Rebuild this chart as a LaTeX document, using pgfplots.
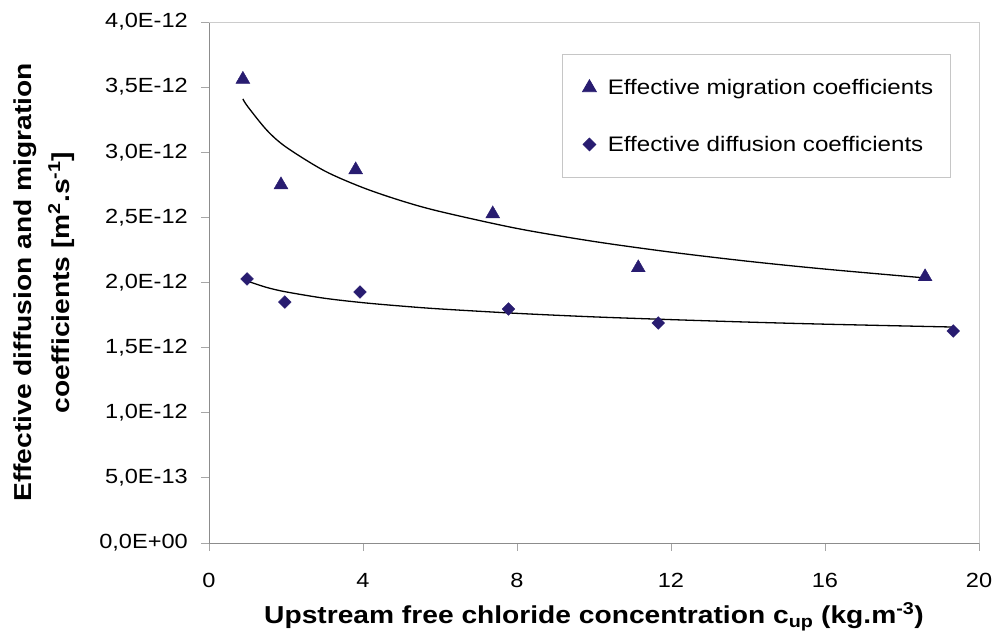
\documentclass[border=0pt]{standalone}
\usepackage{fontspec}
\setmainfont{Liberation Sans}[FakeStretch=1.15]
\usepackage{pgfplots}
\pgfplotsset{compat=1.18}
\definecolor{navy}{RGB}{40,28,112}
\begin{document}
\begin{tikzpicture}
\path[use as bounding box] (-209pt,-88pt) rectangle (787pt,543pt);
\begin{axis}[
  scale only axis, width=770pt, height=521pt,
  at={(0pt,0pt)}, anchor=south west,
  xmin=0, xmax=20, ymin=0, ymax=4,
  axis lines=left,
  axis line style={-, draw=gray!90, line width=0.9pt},
  xtick={0,4,...,20},
  ytick={0,0.5,1,1.5,2,2.5,3,3.5,4},
  yticklabels={{0,0E+00},{5,0E-13},{1,0E-12},{1,5E-12},{2,0E-12},{2,5E-12},{3,0E-12},{3,5E-12},{4,0E-12}},
  /pgf/number format/assume math mode=true,
  tick align=outside, major tick length=8pt,
  tick style={draw=gray!70, line width=0.8pt},
  ticklabel style={font=\fontsize{20.5}{24}\selectfont, inner sep=0pt},
  xticklabel style={anchor=north, yshift=-22pt},
  yticklabel style={anchor=east, xshift=-13pt},
  label style={font=\bfseries\fontsize{24.5}{38}\selectfont},
  xlabel={Upstream free chloride concentration c\textsubscript{up} (kg.m\textsuperscript{-3})},
  xlabel style={at={(axis description cs:0.5,0)}, anchor=base, yshift=-81pt},
  ylabel={Effective diffusion and migration\\coefficients [m\textsuperscript{2}.s\textsuperscript{-1}]},
  ylabel style={at={(axis description cs:-0.2145,0.5)}, anchor=center, align=center},
  legend style={at={(rel axis cs:0.458,0.9386)}, anchor=north west, draw=gray!45, line width=0.8pt,
    font=\fontsize{21}{25}\selectfont, row sep=36pt, inner xsep=15pt, inner ysep=23pt},
  legend cell align=left,
  legend image code/.code={\draw[mark repeat=2,mark phase=2,#1] plot coordinates {(0pt,0pt) (12pt,0pt) (24pt,0pt)}; \path (0pt,0pt) (28pt,0pt);},
  after end axis/.code={\draw[gray!40, line width=0.9pt] (rel axis cs:0,1) -- (rel axis cs:1,1) -- (rel axis cs:1,0);},
  clip=false,
]
% trend lines
\addplot[black, line width=1.3pt, smooth, forget plot] coordinates {
(0.88,3.410) (1,3.353) (1.5,3.170) (2,3.040) (3,2.857) (4,2.728) (5,2.627) (6,2.545)
(8,2.415) (10,2.315) (12,2.233) (14,2.163) (16,2.103) (18.6,2.035)};
\addplot[black, line width=1.3pt, smooth, forget plot] coordinates {
(0.99,2.011) (1.5,1.962) (2,1.928) (3,1.879) (4,1.845) (5,1.819) (6,1.797)
(8,1.763) (10,1.736) (12,1.715) (14,1.696) (16,1.680) (19.33,1.658)};
\addplot[only marks, mark=triangle*, mark size=8pt, mark options={fill=navy, draw=navy}] coordinates {
(0.88,3.56) (1.87,2.75) (3.81,2.865) (7.37,2.527) (11.15,2.113) (18.6,2.044)};
\addlegendentry{Effective migration coefficients}
\addplot[only marks, mark=square*, mark size=4.5pt, mark options={fill=navy, draw=navy, rotate=45}] coordinates {
(0.99,2.027) (1.97,1.850) (3.92,1.927) (7.78,1.797) (11.67,1.689) (19.33,1.628)};
\addlegendentry{Effective diffusion coefficients}
\end{axis}
\end{tikzpicture}
\end{document}
